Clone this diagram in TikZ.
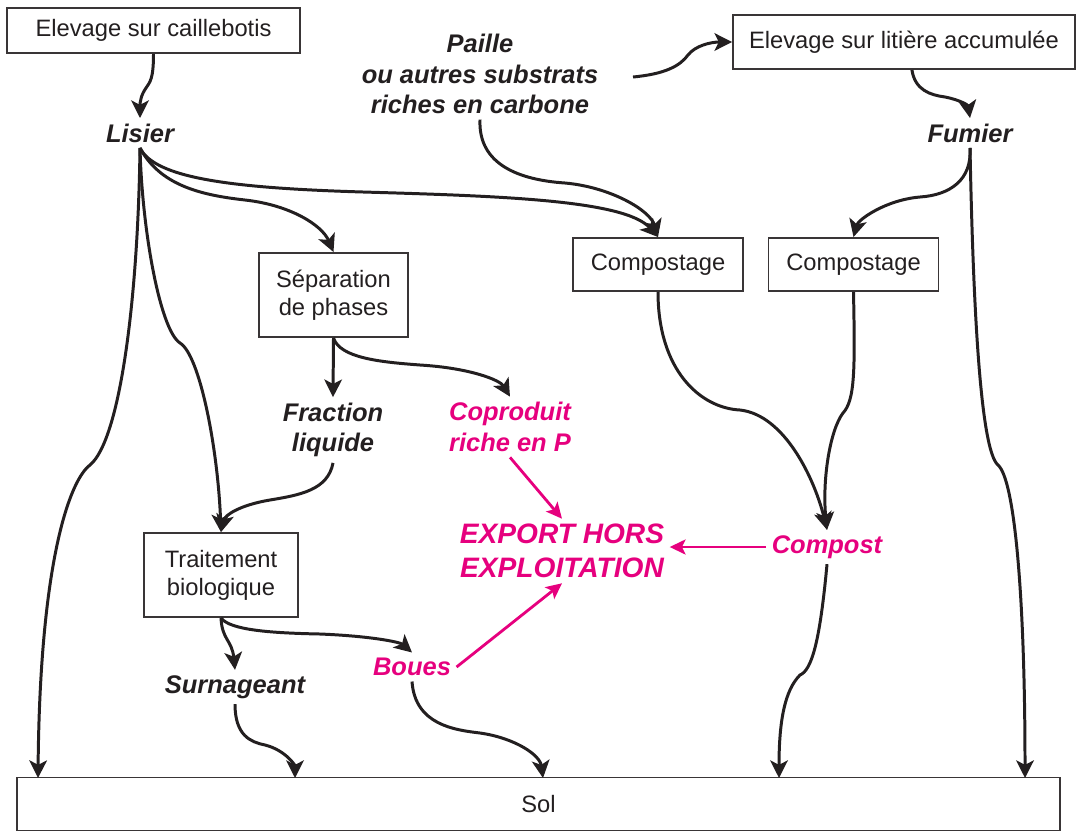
\documentclass[tikz,border=0pt]{standalone}
\usepackage{fontspec}
\setmainfont{Liberation Sans}
\usepackage{xcolor}
\definecolor{exportpink}{RGB}{230,0,126}
\definecolor{inkgrey}{RGB}{35,31,32}
\newcommand{\expcol}{exportpink}
\newcommand{\inkcol}{inkgrey}
\usetikzlibrary{arrows.meta}

\begin{document}
\begin{tikzpicture}[x=0.02cm, y=-0.02cm,
    boxnode/.style={draw=\inkcol!90, line width=1.1pt, text=\inkcol, align=center, inner sep=0pt,
      font=\fontsize{13.5}{16}\selectfont},
    termnode/.style={text=\inkcol, align=center, inner sep=3pt,
      font=\fontsize{14.5}{17.5}\selectfont\bfseries\itshape},
    expnode/.style={termnode, text=\expcol},
    flow/.style={draw=\inkcol, line width=1.7pt, -{Stealth[length=10pt, width=10pt, inset=2.5pt]}},
    expflow/.style={draw=\expcol, line width=1.6pt, -{Stealth[length=9pt, width=8.5pt, inset=2pt]}}]

    \useasboundingbox (0, 0) rectangle (1077, 832);

    \node[boxnode, minimum width=5.86cm, minimum height=0.9cm] (cail) at (153.5, 30.5) {Elevage sur caillebotis};
    \node[boxnode, minimum width=6.84cm, minimum height=1.08cm] (lit) at (904, 42) {Elevage sur litière accumulée};
    \node[boxnode, minimum width=2.98cm, minimum height=1.68cm] (sep) at (333.5, 295) {Séparation\\de phases};
    \node[boxnode, minimum width=3.4cm, minimum height=1.06cm] (comp1) at (658, 264.5) {Compostage};
    \node[boxnode, minimum width=3.4cm, minimum height=1.06cm] (comp2) at (853.5, 264.5) {Compostage};
    \node[boxnode, minimum width=3.08cm, minimum height=1.68cm] (trait) at (221, 575) {Traitement\\biologique};
    \node[boxnode, minimum width=20.86cm, minimum height=1.06cm] (sol) at (538.5, 804) {Sol};

    \node[termnode] (lisier) at (140, 133) {Lisier};
    \node[termnode] (paille) at (480, 74) {Paille\\ou autres substrats\\riches en carbone};
    \node[termnode] (fumier) at (970, 133) {Fumier};
    \node[termnode] (frac) at (333, 430) {Fraction\\liquide};
    \node[termnode] (surn) at (235, 687) {Surnageant};
    \node[expnode] (coprod) at (510, 427) {Coproduit\\riche en P};
    \node[expnode, font=\fontsize{16}{19}\selectfont\bfseries\itshape] (export) at (562, 551) {EXPORT HORS\\EXPLOITATION};
    \node[expnode] (compost) at (827, 547) {Compost};
    \node[expnode] (boues) at (412, 667) {Boues};

    \coordinate (pright) at (633, 77);
    \coordinate (s1) at (38, 778);
    \coordinate (s2) at (295, 778);
    \coordinate (s3) at (543, 778);
    \coordinate (s4) at (779, 778);
    \coordinate (s5) at (1025, 778);

    \draw[flow] (cail.south) .. controls +(0, 25) and (150, 82) .. (146, 88) .. controls (141, 95) and (140, 102) .. (lisier.north);
    \draw[flow] ([xshift=4.5pt]lit.south) .. controls (915, 90) and (930, 95) .. (945, 97) .. controls (960, 100) and (968, 105) .. (fumier.north);
    \draw[flow] (pright) .. controls (665, 74) and (680, 66) .. (688, 55) .. controls (695, 46) and (710, 42) .. (lit.west);
    \draw[flow] (paille.south) .. controls (478, 165) and (520, 180) .. (565, 183) .. controls (610, 187) and (650, 210) .. (comp1.north);

    \draw[flow] (lisier.south) .. controls (155, 178) and (230, 188) .. (363, 192) .. controls (500, 196) and (625, 200) .. (comp1.north);
    \draw[flow] (lisier.south) .. controls (160, 185) and (200, 195) .. (245, 200) .. controls (290, 205) and (322, 225) .. (sep.north);
    \draw[flow] (lisier.south) .. controls (142, 230) and (160, 330) .. (180, 343) .. controls (200, 355) and (218, 450) .. (trait.north);
    \draw[flow] (lisier.south) .. controls (138, 300) and (120, 440) .. (90, 465) .. controls (70, 480) and (40, 560) .. (s1);

    \draw[flow] (fumier.south) .. controls (972, 180) and (950, 195) .. (920, 197) .. controls (885, 200) and (858, 220) .. (comp2.north);
    \draw[flow] (fumier.south) .. controls (973, 300) and (980, 450) .. (998, 465) .. controls (1015, 480) and (1025, 600) .. (s5);

    \draw[flow] (sep.south) -- (frac.north);
    \draw[flow] (sep.south) .. controls (340, 358) and (380, 362) .. (420, 365) .. controls (470, 368) and (500, 380) .. (coprod.north);
    \draw[flow] (frac.south) .. controls (328, 490) and (300, 495) .. (270, 500) .. controls (240, 505) and (225, 515) .. (trait.north);

    \draw[flow] (comp1.south) .. controls (658, 370) and (700, 408) .. (740, 410) .. controls (785, 415) and (815, 480) .. (compost.north);
    \draw[flow] (comp2.south) .. controls (855, 370) and (855, 400) .. (843, 413) .. controls (830, 430) and (822, 480) .. (compost.north);
    \draw[flow] (compost.south) .. controls (820, 640) and (812, 670) .. (800, 675) .. controls (785, 690) and (779, 720) .. (s4);

    \draw[flow] (trait.south) .. controls (222, 640) and (232, 640) .. (surn.north);
    \draw[flow] (trait.south) .. controls (230, 630) and (270, 633) .. (320, 634) .. controls (370, 636) and (400, 642) .. (boues.north);
    \draw[flow] (surn.south) .. controls (235, 735) and (250, 742) .. (265, 745) .. controls (285, 750) and (295, 765) .. (s2);
    \draw[flow] (boues.south) .. controls (415, 725) and (455, 730) .. (480, 733) .. controls (515, 738) and (540, 755) .. (s3);

    \draw[expflow] (compost.west) -- (compost.west -| export.east);
    \draw[expflow] (coprod.south) -- (export.north);
    \draw[expflow] (boues.east) -- (export.south);

\end{tikzpicture}
\end{document}
